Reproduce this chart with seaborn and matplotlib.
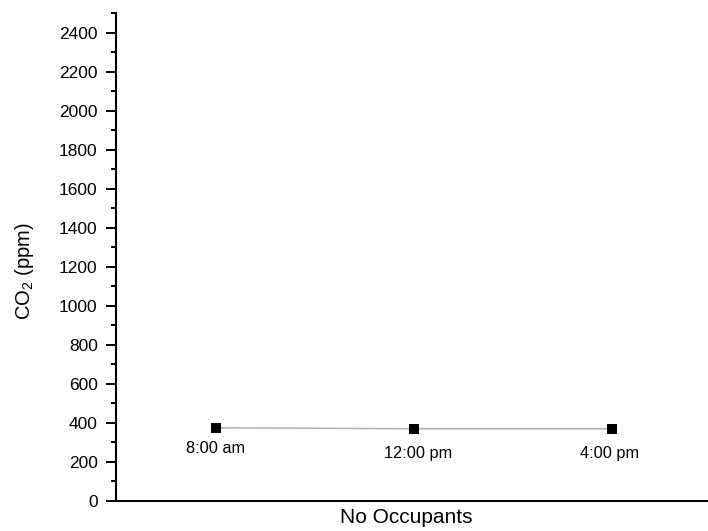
import matplotlib
matplotlib.use("Agg")
import matplotlib.pyplot as plt
import seaborn as sns
import pandas as pd
from matplotlib.ticker import MultipleLocator

times = ["8:00 am", "12:00 pm", "4:00 pm"]
co2 = [375, 370, 370]
label_offsets = [(0, -18), (3, -21), (-1.5, -21)]

sns.set_style("white")
plt.rcParams["font.family"] = ["Liberation Sans", "DejaVu Sans"]
plt.rcParams["mathtext.fontset"] = "custom"
plt.rcParams["mathtext.rm"] = "Liberation Sans"
plt.rcParams["mathtext.it"] = "Liberation Sans"
for key in ["text.color", "axes.labelcolor", "xtick.color", "ytick.color"]:
    plt.rcParams[key] = "black"

df = pd.DataFrame({"pos": list(range(1, len(times) + 1)), "co2": co2, "time": times})

fig = plt.figure(figsize=(7.08, 5.31), dpi=100)
ax = fig.add_axes([116 / 708, 30 / 531, 1 - 116 / 708, 488 / 531])

sns.lineplot(data=df, x="pos", y="co2", color="#b4b4b4", linewidth=1.2, ax=ax)
sns.scatterplot(data=df, x="pos", y="co2", marker="s", color="black", s=52,
                edgecolor="black", linewidth=0, ax=ax, zorder=3)

for p, v, t, off in zip(df["pos"], df["co2"], df["time"], label_offsets):
    ax.annotate(t, (p, v), xytext=off, textcoords="offset points",
                ha="center", va="baseline", fontsize=11.8, color="black")

ax.set_xlim(0.495, 3.485)
ax.set_ylim(0, 2500)
ax.set_yticks(range(0, 2401, 200))
ax.yaxis.set_minor_locator(MultipleLocator(100))
ax.set_xticks([])
ax.tick_params(axis="y", which="major", direction="out", length=7.2, width=1.4,
               labelsize=12.5, left=True, pad=6, colors="black")
ax.tick_params(axis="y", which="minor", direction="out", length=3.6, width=1.4,
               left=True, colors="black")

for s in ["top", "right"]:
    ax.spines[s].set_visible(False)
for s in ["left", "bottom"]:
    ax.spines[s].set_color("black")
    ax.spines[s].set_linewidth(1.5)

ax.set_xlabel("No Occupants", fontsize=15, color="black")
ax.xaxis.set_label_coords(0.49, -0.014)
ax.set_ylabel("CO$_2$ (ppm)", fontsize=14.5, color="black")
ax.yaxis.label.set_va("center")
ax.yaxis.set_label_coords(-0.155, 0.47)

fig.savefig("out.png", dpi=100)
